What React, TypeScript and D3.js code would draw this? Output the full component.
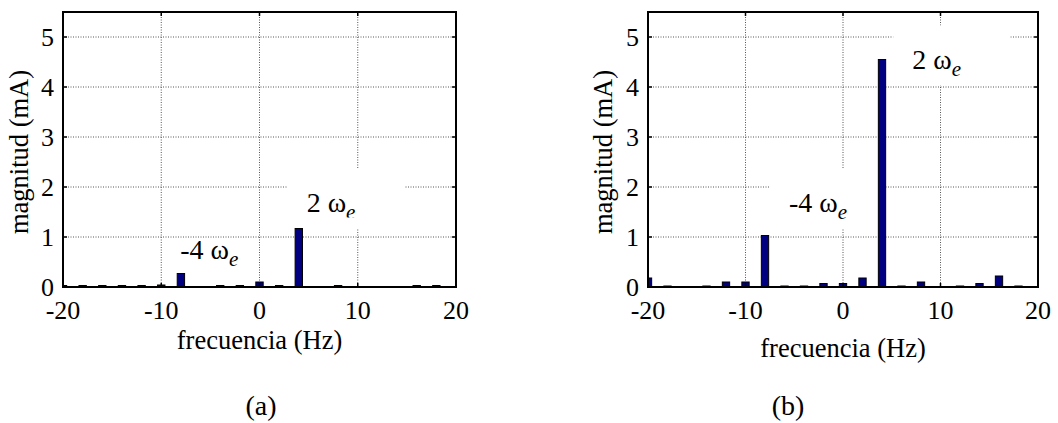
import React from "react";
import * as d3 from "d3";

// spectrum bins (Hz) and magnitudes (mA)
const frequencies = [-20, -18, -16, -14, -12, -10, -8, -6, -4, -2, 0, 2, 4, 6, 8, 10, 12, 14, 16, 18];
const magnitudeA = [0.03, 0.03, 0.03, 0.03, 0.03, 0.04, 0.27, 0, 0.03, 0.03, 0.1, 0.03, 1.17, 0, 0.03, 0, 0, 0, 0.03, 0.03];
const magnitudeB = [0.18, 0.02, 0, 0.02, 0.1, 0.1, 1.03, 0.02, 0.02, 0.07, 0.07, 0.18, 4.55, 0.02, 0.1, 0, 0.02, 0.07, 0.22, 0.02];

const xTicks = [-20, -10, 0, 10, 20];
const yTicks = [0, 1, 2, 3, 4, 5];

// harmonic labels: [frequency, magnitude, leading factor]
const labelsA = [
  { f: 4.8, m: 1.51, lead: "2", boxed: true, clipped: true },
  { f: -8.07, m: 0.57, lead: "-4", boxed: false, clipped: false },
];
const labelsB = [
  { f: 7.1, m: 4.37, lead: "2", boxed: true, clipped: false },
  { f: -5.55, m: 1.5, lead: "-4", boxed: true, clipped: false },
];

const W = 1058;
const H = 423;
const FONT = "'Liberation Serif', 'Times New Roman', serif";
const BAR = "#000080";

type Label = { f: number; m: number; lead: string; boxed: boolean; clipped: boolean };

function Panel(props: {
  id: string;
  left: number;
  right: number;
  values: number[];
  labels: Label[];
  yLabelX: number;
  xLabelY: number;
  caption: string;
  captionX: number;
}) {
  const { id, left, right, values, labels } = props;
  const top = 12;
  const bottom = 287;
  const x = d3.scaleLinear().domain([-20, 20]).range([left, right]);
  const y = d3.scaleLinear().domain([0, 5.5]).range([bottom, top]);
  const half = 0.375;
  const tick = 4;

  return (
    <g>
      <defs>
        <clipPath id={`plot-${id}`}>
          <rect x={left} y={top} width={right - left} height={bottom - top} />
        </clipPath>
      </defs>
      <rect x={left} y={top} width={right - left} height={bottom - top} fill="#fff" />

      {/* grid */}
      <g stroke="#555" strokeWidth={1} strokeDasharray="1,1.5">
        {xTicks.slice(1, -1).map((t) => (
          <line key={"gx" + t} x1={x(t)} x2={x(t)} y1={top} y2={bottom} />
        ))}
        {yTicks.slice(1).map((t) => (
          <line key={"gy" + t} x1={left} x2={right} y1={y(t)} y2={y(t)} />
        ))}
      </g>

      {/* white backgrounds of the annotations hide the grid */}
      {labels.map((l, i) =>
        l.boxed ? (
          <rect
            key={"box" + i}
            x={x(l.f) - 19}
            y={y(l.m) - 43}
            width={l.lead === "2" ? 117 : 110}
            height={60}
            fill="#fff"
          />
        ) : null
      )}

      {/* bars */}
      <g clipPath={`url(#plot-${id})`}>
        {frequencies.map((f, i) =>
          values[i] > 0 ? (
            <rect
              key={f}
              x={x(f - half)}
              y={y(values[i])}
              width={x(f + half) - x(f - half)}
              height={y(0) - y(values[i])}
              fill={BAR}
              stroke="#000"
              strokeWidth={1}
            />
          ) : null
        )}
      </g>

      {/* harmonic annotations */}
      {labels.map((l, i) => {
        const ax = x(l.f);
        const ay = y(l.m);
        const cid = `lab-${id}-${i}`;
        return (
          <g key={i}>
            {l.clipped && (
              <defs>
                <clipPath id={cid}>
                  <rect x={ax - 19} y={ay - 43} width={117} height={49} />
                </clipPath>
              </defs>
            )}
            <text
              x={ax}
              y={ay}
              fontFamily={FONT}
              fontSize={28}
              fill="#000"
              clipPath={l.clipped ? `url(#${cid})` : undefined}
            >
              {l.lead + " ω"}
              <tspan fontStyle="italic" fontSize={21} dy={7}>
                e
              </tspan>
            </text>
          </g>
        );
      })}

      {/* axes box with inward ticks */}
      <rect x={left} y={top} width={right - left} height={bottom - top} fill="none" stroke="#000" strokeWidth={2} />
      <g stroke="#000" strokeWidth={1.5}>
        {xTicks.map((t) => (
          <g key={"tx" + t}>
            <line x1={x(t)} x2={x(t)} y1={bottom} y2={bottom - tick} />
            <line x1={x(t)} x2={x(t)} y1={top} y2={top + tick} />
          </g>
        ))}
        {yTicks.map((t) => (
          <g key={"ty" + t}>
            <line x1={left} x2={left + tick} y1={y(t)} y2={y(t)} />
            <line x1={right} x2={right - tick} y1={y(t)} y2={y(t)} />
          </g>
        ))}
      </g>

      {/* tick labels */}
      <g fontFamily={FONT} fontSize={26} fill="#000">
        {xTicks.map((t) => (
          <text key={"lx" + t} x={x(t)} y={319} textAnchor="middle">
            {t}
          </text>
        ))}
        {yTicks.map((t) => (
          <text key={"ly" + t} x={left - 9} y={y(t) + 9} textAnchor="end">
            {t}
          </text>
        ))}
      </g>

      <text
        transform={`translate(${props.yLabelX},152) rotate(-90)`}
        textAnchor="middle"
        fontFamily={FONT}
        fontSize={26.5}
      >
        magnitud (mA)
      </text>
      <text x={(left + right) / 2} y={props.xLabelY} textAnchor="middle" fontFamily={FONT} fontSize={26.5}>
        frecuencia (Hz)
      </text>
      <text x={props.captionX} y={415} textAnchor="middle" fontFamily={FONT} fontSize={28}>
        {props.caption}
      </text>
    </g>
  );
}

export default function App() {
  return (
    <svg width={W} height={H} style={{ position: "absolute", left: 0, top: 0, background: "#fff" }}>
      <rect width={W} height={H} fill="#fff" />
      <Panel
        id="a"
        left={63}
        right={456}
        values={magnitudeA}
        labels={labelsA}
        yLabelX={28}
        xLabelY={349}
        caption="(a)"
        captionX={261}
      />
      <Panel
        id="b"
        left={648}
        right={1038}
        values={magnitudeB}
        labels={labelsB}
        yLabelX={612}
        xLabelY={357}
        caption="(b)"
        captionX={788}
      />
    </svg>
  );
}
